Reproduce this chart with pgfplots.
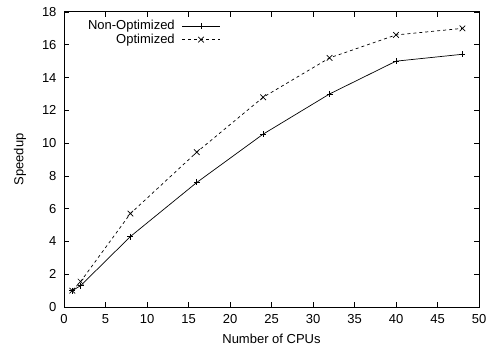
\documentclass[border=0pt]{standalone}
\usepackage{pgfplots}
\pgfplotsset{compat=1.18}
\usepackage{fontspec}
\setmainfont{Liberation Sans}
\begin{document}
\fontsize{13bp}{15bp}\selectfont
\begin{tikzpicture}
\begin{axis}[
 scale only axis, width=415bp, height=295bp,
 xmin=0,xmax=50,ymin=0,ymax=18,
 xtick={0,5,...,50}, ytick={0,2,...,18},
 tick align=inside, major tick length=5bp,
 tick style={line width=0.6bp,black},
 axis line style={line width=1bp},
 /pgf/number format/assume math mode=true,
 ticklabel style={font=\fontsize{13bp}{15bp}\selectfont},
 label style={font=\fontsize{13bp}{15bp}\selectfont},
 xticklabel style={yshift=-3bp},
 yticklabel style={xshift=-3bp},
 xlabel={Number of CPUs}, ylabel={Speedup},
 xlabel style={yshift=-1bp},
 ylabel style={yshift=7bp},
 legend plot pos=right,
 legend cell align=right,
 legend style={draw=none, fill=none, at={(rel axis cs:0.055,0.975)}, anchor=north west,
   inner sep=0pt, row sep=0bp, column sep=6bp, font=\fontsize{13bp}{13bp}\selectfont,
   nodes={inner sep=1bp}},
 legend image code/.code={\draw[mark repeat=2,mark phase=2,#1] plot coordinates {(0bp,0bp) (19bp,0bp) (38bp,0bp)};},
]
\addplot[black, line width=0.7bp, mark=+, mark size=3bp, mark options={solid}] coordinates {
(1,1) (2,1.3) (8,4.3) (16,7.6) (24,10.55) (32,13) (40,15) (48,15.42)};
\addlegendentry{Non-Optimized}
\addplot[black, line width=0.7bp, dash pattern=on 3bp off 3bp, mark=x, mark size=4bp, mark options={solid}] coordinates {
(1,1) (2,1.55) (8,5.7) (16,9.45) (24,12.8) (32,15.2) (40,16.6) (48,17)};
\addlegendentry{Optimized}
\end{axis}
\pgfresetboundingbox
\path ([shift={(-64bp,-38bp)}]current axis.south west) rectangle ([shift={(8bp,12bp)}]current axis.north east);
\end{tikzpicture}
\end{document}
